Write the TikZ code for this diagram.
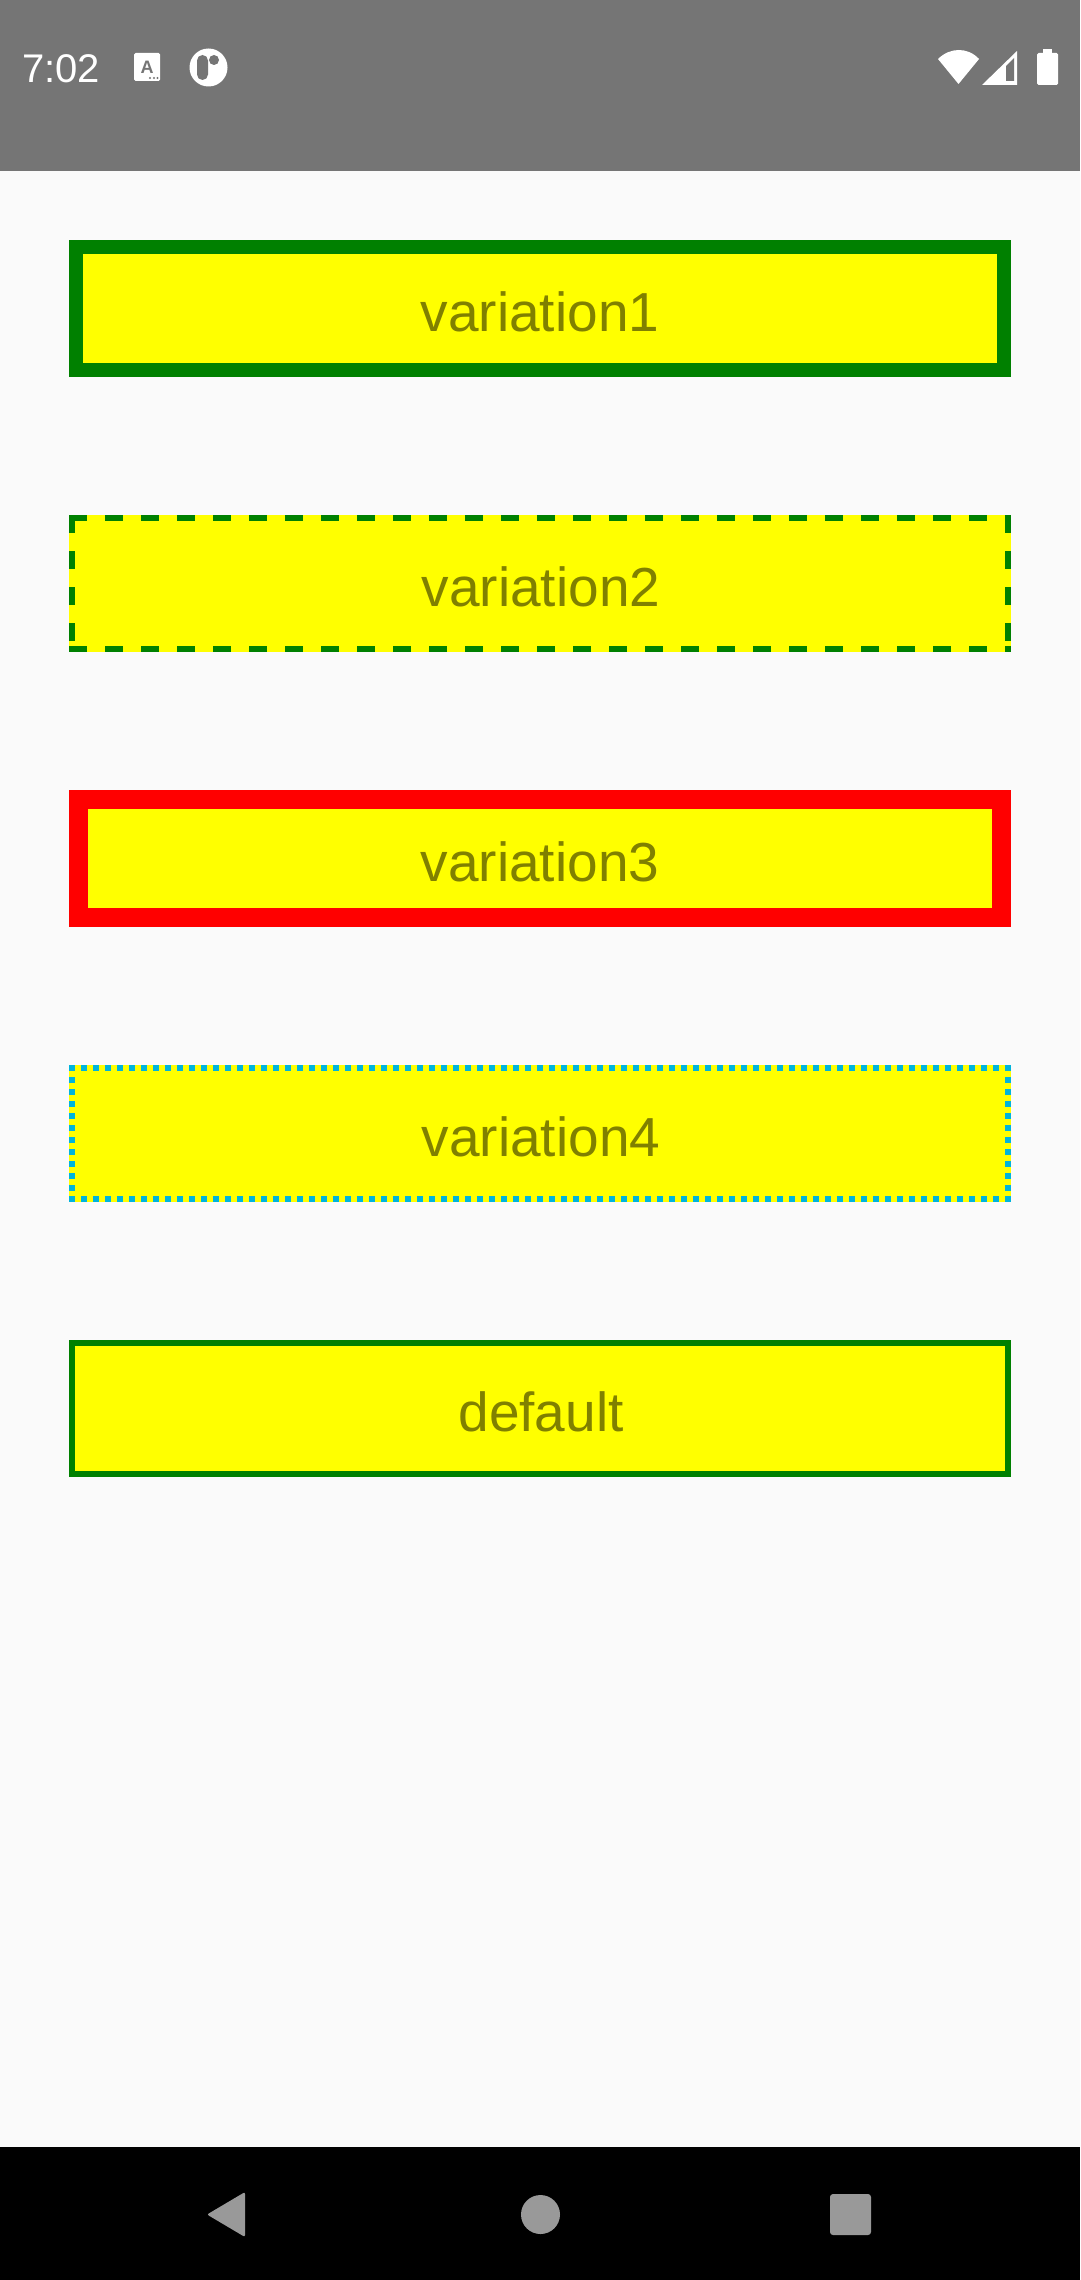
\documentclass[tikz,border=0pt]{standalone}
\usepackage{fontspec}
\setmainfont{Liberation Sans}
\definecolor{bggray}{RGB}{117,117,117}
\definecolor{pagebg}{RGB}{250,250,250}
\definecolor{btnyellow}{RGB}{255,255,0}
\definecolor{btnred}{RGB}{255,0,0}
\definecolor{btngreen}{RGB}{0,128,0}
\definecolor{btnblue}{RGB}{0,180,220}
\definecolor{btntext}{RGB}{128,128,0}
\definecolor{navgray}{RGB}{153,153,153}
\tikzset{
  btn/.style={fill=btnyellow,draw=none,inner sep=0pt,minimum width=942pt,minimum height=137pt,anchor=north west},
  lbl/.style={text=btntext,font=\fontsize{55}{55}\selectfont,inner sep=0pt,anchor=base},
  dashside/.style={btngreen,line width=6pt,dash pattern=on 18pt off 18pt},
  dotside/.style={btnblue,line width=6pt,dash pattern=on 6pt off 6pt},
  statustext/.style={text=white,font=\fontsize{40}{40}\selectfont,inner sep=0pt,anchor=base west},
}
\begin{document}
\begin{tikzpicture}[x=1pt,y=-1pt]
\useasboundingbox (0,0) rectangle (1080,2280);
\fill[pagebg] (0,0) rectangle (1080,2280);
\fill[bggray] (0,0) rectangle (1080,171);
\fill[black] (0,2147) rectangle (1080,2280);
% status bar
\node[statustext] (clock) at (22,83) {7:02};
\fill[white,rounded corners=1.5pt] (134,53) rectangle (160,81);
\node[text=bggray,font=\fontsize{18}{18}\selectfont\bfseries,inner sep=0pt,anchor=base] (aicon) at (147,74) {A};
\fill[bggray] (150,78) circle (1.2) (154,78) circle (1.2) (157.5,78) circle (1.2);
\fill[white] (208.5,67.5) circle (19);
\fill[bggray,rounded corners=5.5pt] (197,55) rectangle (208,80);
\fill[bggray] (214,60) circle (5);
\fill[white] (938,59) .. controls (950,47) and (968,47) .. (979,59) -- (958.5,84) -- cycle;
\fill[white] (1017,51) -- (1017,85) -- (982,85) -- cycle;
\fill[bggray] (1014,58) -- (1014,81) -- (1006,81) -- (1006,66) -- cycle;
\fill[white,rounded corners=1.5pt] (1037,53) rectangle (1058,85);
\fill[white] (1043,49) rectangle (1052,54);
% variation1
\node[btn] (b1) at (69,240) {};
\draw[btngreen,line width=14pt] ([shift={(7,7)}]b1.north west) rectangle ([shift={(-7,-7)}]b1.south east);
\node[lbl] (t1) at (540,331) {variation1};
% variation2
\node[btn] (b2) at (69,515) {};
\draw[dashside] ([yshift=-3pt]b2.north west) -- ([yshift=-3pt]b2.north east);
\draw[dashside] ([yshift=3pt]b2.south west) -- ([yshift=3pt]b2.south east);
\draw[dashside] ([xshift=3pt]b2.north west) -- ([xshift=3pt]b2.south west);
\draw[dashside] ([xshift=-3pt]b2.north east) -- ([xshift=-3pt]b2.south east);
\node[lbl] (t2) at (541,606) {variation2};
% variation3
\node[btn] (b3) at (69,790) {};
\draw[btnred,line width=19pt] ([shift={(9.5,9.5)}]b3.north west) rectangle ([shift={(-9.5,-9.5)}]b3.south east);
\node[lbl] (t3) at (540,881) {variation3};
% variation4
\node[btn] (b4) at (69,1065) {};
\draw[dotside] ([yshift=-3pt]b4.north west) -- ([yshift=-3pt]b4.north east);
\draw[dotside] ([yshift=3pt]b4.south west) -- ([yshift=3pt]b4.south east);
\draw[dotside] ([xshift=3pt]b4.north west) -- ([xshift=3pt]b4.south west);
\draw[dotside] ([xshift=-3pt]b4.north east) -- ([xshift=-3pt]b4.south east);
\node[lbl] (t4) at (541,1156) {variation4};
% default
\node[btn] (b5) at (69,1340) {};
\draw[btngreen,line width=6pt] ([shift={(3,3)}]b5.north west) rectangle ([shift={(-3,-3)}]b5.south east);
\node[lbl] (t5) at (541,1431) {default};
% nav bar
\fill[navgray,rounded corners=2pt] (245,2192) -- (245,2237) -- (207,2214.5) -- cycle;
\fill[navgray] (540.5,2214.5) circle (19.5);
\fill[navgray,rounded corners=3pt] (830,2194) rectangle (871,2235);
\end{tikzpicture}
\end{document}
